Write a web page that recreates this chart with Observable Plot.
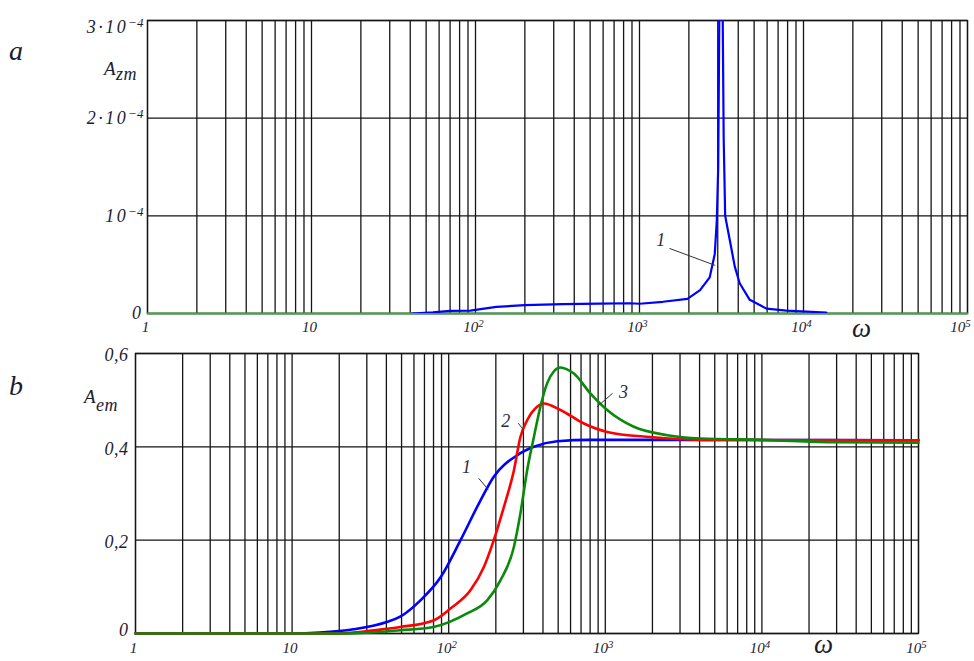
<!DOCTYPE html>
<html>
<head>
<meta charset="utf-8">
<script src="https://cdn.jsdelivr.net/npm/d3@7"></script>
<script src="https://cdn.jsdelivr.net/npm/@observablehq/plot@0.6"></script>
<style>
  html, body { margin: 0; padding: 0; background: #fff; }
  #wrap { position: relative; width: 974px; height: 661px; overflow: hidden; }
  .pane { position: absolute; left: 0; }
  .lbl { position: absolute; font-family: "Liberation Serif", serif; font-style: italic; color: #1c1c30; line-height: 1; white-space: nowrap; }
  .lbl sub { position: relative; vertical-align: baseline; }
</style>
</head>
<body>
<div id="wrap">
  <div id="top" class="pane" style="top:0"></div>
  <div id="bot" class="pane" style="top:340px"></div>
  <div class="lbl" style="left:9px;top:37px;font-size:28px;">a</div>
  <div class="lbl" style="left:9px;top:372px;font-size:28px;">b</div>
  <div class="lbl" style="left:104px;top:59px;font-size:19px;letter-spacing:0.5px;">A<sub style="font-size:18px;top:5px;">zm</sub></div>
  <div class="lbl" style="left:84px;top:387px;font-size:19px;letter-spacing:0.5px;">A<sub style="font-size:18px;top:8px;">em</sub></div>
  <div class="lbl" style="left:852px;top:315px;font-size:27px;">ω</div>
  <div class="lbl" style="left:814px;top:631px;font-size:27px;">ω</div>
</div>
<script>
// ---------- data ----------
const xTicks = [1, 10, 100, 1000, 10000, 100000];
const xTickLabels = ["1", "10", "10^2", "10^3", "10^4", "10^5"];

const yTicksA = [0, 1e-4, 2e-4, 3e-4];
const yTickLabelsA = ["0", "10^\u22124", "2\u00B710^\u22124", "3\u00B710^\u22124"];
const yTicksB = [0, 0.2, 0.4, 0.6];
const yTickLabelsB = ["0", "0,2", "0,4", "0,6"];

// panel a, curve 1 (A_zm, in units of 1e-4)
const omegaA1 = [41, 55, 70, 93, 134, 200, 340, 574, 874, 1000, 1390, 1960, 2340, 2680, 2877, 2960, 3020, 3080, 3140, 3200, 3260, 3330, 3554, 3811, 4083, 4700, 5945, 7870, 13780];
const azmA1 =   [0, 0.012, 0.027, 0.03, 0.068, 0.085, 0.095, 0.102, 0.105, 0.10, 0.12, 0.15, 0.24, 0.37, 0.61, 0.95, 1.5, 3.5, 6.0, 3.5, 1.8, 1.0, 0.75, 0.48, 0.31, 0.14, 0.05, 0.03, 0.01];
// panel a, zero curve (green)
const omegaA0 = [1, 100000];
const azmA0 = [0, 0];

// panel b, curves 1, 2, 3 (A_em)
const omegaB1 = [1, 10, 15, 24.7, 40.7, 49, 66, 89, 119, 160, 194, 274, 350, 493, 800, 3000, 100000];
const aemB1 =   [0, 0, 0.002, 0.009, 0.025, 0.036, 0.071, 0.121, 0.2, 0.286, 0.336, 0.382, 0.40, 0.412, 0.415, 0.415, 0.414];
const omegaB2 = [1, 20, 28.7, 40, 49, 80, 103, 138, 168, 194, 225, 261, 287, 317, 367, 405, 517, 729, 1028, 1945, 4055, 100000];
const aemB2 =   [0, 0, 0.004, 0.01, 0.014, 0.028, 0.054, 0.093, 0.143, 0.2, 0.271, 0.35, 0.421, 0.457, 0.486, 0.493, 0.479, 0.45, 0.432, 0.421, 0.415, 0.414];
const omegaB3 = [1, 22, 49, 80, 131, 176, 214, 261, 287, 317, 350, 385, 425, 470, 517, 570, 630, 805, 1028, 1520, 2485, 4055, 10000, 30000, 100000];
const aemB3 =   [0, 0, 0.007, 0.014, 0.043, 0.071, 0.114, 0.186, 0.257, 0.35, 0.421, 0.486, 0.536, 0.562, 0.570, 0.566, 0.557, 0.514, 0.479, 0.443, 0.425, 0.418, 0.415, 0.41, 0.409];

// curve labels and leader lines
const labelsA = [{t: "1", omega: 1349, v: 0.75e-4}];
const leadersA = [{id: 1, omega: 1531, v: 0.665e-4}, {id: 1, omega: 2879, v: 0.494e-4}];
const labelsB = [
  {t: "1", omega: 130, v: 0.356},
  {t: "2", omega: 231, v: 0.454},
  {t: "3", omega: 1307, v: 0.518}
];
const leadersB = [
  {id: 1, omega: 156, v: 0.332}, {id: 1, omega: 178, v: 0.309},
  {id: 2, omega: 279, v: 0.45}, {id: 2, omega: 301, v: 0.436},
  {id: 3, omega: 1107, v: 0.514}, {id: 3, omega: 888, v: 0.486}
];

// ---------- helpers ----------
const zip = (xs, ys) => xs.map((x, i) => ({omega: x, v: ys[i]}));
const gridX = [];
for (let n = 0; n < 5; n++) for (let k = 1; k <= 9; k++) gridX.push(k * Math.pow(10, n));
gridX.push(1e5);

const fmt = (ticks, labels) => d => labels[ticks.findIndex(t => Math.abs(t - d) <= Math.abs(t) * 1e-9 + 1e-15)];
const GRID = "#151515";
const TXT = "#1c1c30";
const baseStyle = {fontFamily: "'Liberation Serif', serif", fontStyle: "italic", fontSize: "15px", background: "transparent", overflow: "visible"};
const axisText = {fill: TXT, tickSize: 0, label: null};

const NS = "http://www.w3.org/2000/svg";
function supify(svg) {
  svg.querySelectorAll("text").forEach(t => {
    const s = t.textContent;
    if (!s.includes("^")) return;
    const [base, sup] = s.split("^");
    while (t.firstChild) t.removeChild(t.firstChild);
    const a = document.createElementNS(NS, "tspan");
    a.textContent = base;
    const b = document.createElementNS(NS, "tspan");
    b.setAttribute("dy", "-0.45em");
    b.setAttribute("font-size", "0.72em");
    b.style.letterSpacing = "0px";
    b.textContent = sup;
    t.append(a, b);
  });
}
function sizeGroup(svg, cls, px, spacing) {
  svg.querySelectorAll("." + cls).forEach(g => {
    g.setAttribute("font-size", px);
    g.style.fontSize = px + "px";
    if (spacing) g.style.letterSpacing = spacing;
    g.querySelectorAll("text").forEach(t => { t.style.fontSize = px + "px"; });
  });
}

// ---------- panel a ----------
const plotA = Plot.plot({
  width: 974, height: 340,
  marginLeft: 147, marginRight: 7, marginTop: 20, marginBottom: 27,
  x: {type: "log", domain: [1, 1e5]},
  y: {domain: [0, 3e-4]},
  style: baseStyle,
  marks: [
    Plot.ruleX(gridX, {stroke: GRID, strokeWidth: 1.3}),
    Plot.ruleY(yTicksA, {stroke: GRID, strokeWidth: 1.3}),
    Plot.frame({stroke: GRID, strokeWidth: 1.3}),
    Plot.line(zip(omegaA0, azmA0), {x: "omega", y: "v", stroke: "#46a846", strokeWidth: 2}),
    Plot.line(zip(omegaA1, azmA1.map(v => v * 1e-4)), {x: "omega", y: "v", stroke: "#0000ff", strokeWidth: 2.2, clip: true}),
    Plot.line(leadersA, {x: "omega", y: "v", z: "id", stroke: "#333", strokeWidth: 1}),
    Plot.text(labelsA, {x: "omega", y: "v", text: "t", fontSize: 18, fill: "#2a2a44", className: "curvelbl"}),
    Plot.axisX({...axisText, ticks: xTicks.slice(0, 5), tickFormat: fmt(xTicks, xTickLabels), tickPadding: 8, dx: -2, className: "xl"}),
    Plot.axisX({...axisText, ticks: [1e5], tickFormat: fmt(xTicks, xTickLabels), tickPadding: 8, dx: -7, className: "xl"}),
    Plot.axisY({...axisText, ticks: yTicksA.slice(0, 3), tickFormat: fmt(yTicksA, yTickLabelsA), tickPadding: 4, className: "yl"}),
    Plot.axisY({...axisText, ticks: [3e-4], tickFormat: fmt(yTicksA, yTickLabelsA), tickPadding: 4, dy: 7, className: "yl"})
  ]
});
sizeGroup(plotA, "xl", 15);
sizeGroup(plotA, "yl", 18, "2.5px");
sizeGroup(plotA, "curvelbl", 18);
supify(plotA);
document.getElementById("top").append(plotA);

// ---------- panel b ----------
const plotB = Plot.plot({
  width: 974, height: 321,
  marginLeft: 135, marginRight: 56, marginTop: 13, marginBottom: 28,
  x: {type: "log", domain: [1, 1e5]},
  y: {domain: [0, 0.6]},
  style: baseStyle,
  marks: [
    Plot.ruleX(gridX, {stroke: GRID, strokeWidth: 1.3}),
    Plot.ruleY(yTicksB, {stroke: GRID, strokeWidth: 1.3}),
    Plot.frame({stroke: GRID, strokeWidth: 1.3}),
    Plot.line(zip(omegaB1, aemB1), {x: "omega", y: "v", stroke: "#0000ff", strokeWidth: 2.6, curve: "monotone-x"}),
    Plot.line(zip(omegaB2, aemB2), {x: "omega", y: "v", stroke: "#ff0000", strokeWidth: 2.6, curve: "monotone-x"}),
    Plot.line(zip(omegaB3, aemB3), {x: "omega", y: "v", stroke: "#0a8a0a", strokeWidth: 2.6, curve: "monotone-x"}),
    Plot.line(leadersB, {x: "omega", y: "v", z: "id", stroke: "#333", strokeWidth: 1}),
    Plot.text(labelsB, {x: "omega", y: "v", text: "t", fontSize: 18, fill: "#2a2a44", className: "curvelbl"}),
    Plot.axisX({...axisText, ticks: xTicks, tickFormat: fmt(xTicks, xTickLabels), tickPadding: 9, dx: -2, className: "xl"}),
    Plot.axisY({...axisText, ticks: yTicksB.slice(1), tickFormat: fmt(yTicksB, yTickLabelsB), tickPadding: 7, dy: 2, className: "yl"}),
    Plot.axisY({...axisText, ticks: [0], tickFormat: fmt(yTicksB, yTickLabelsB), tickPadding: 7, dy: -3, className: "yl"})
  ]
});
sizeGroup(plotB, "xl", 15);
sizeGroup(plotB, "yl", 18, "0.5px");
sizeGroup(plotB, "curvelbl", 18);
supify(plotB);
document.getElementById("bot").append(plotB);
</script>
</body>
</html>
